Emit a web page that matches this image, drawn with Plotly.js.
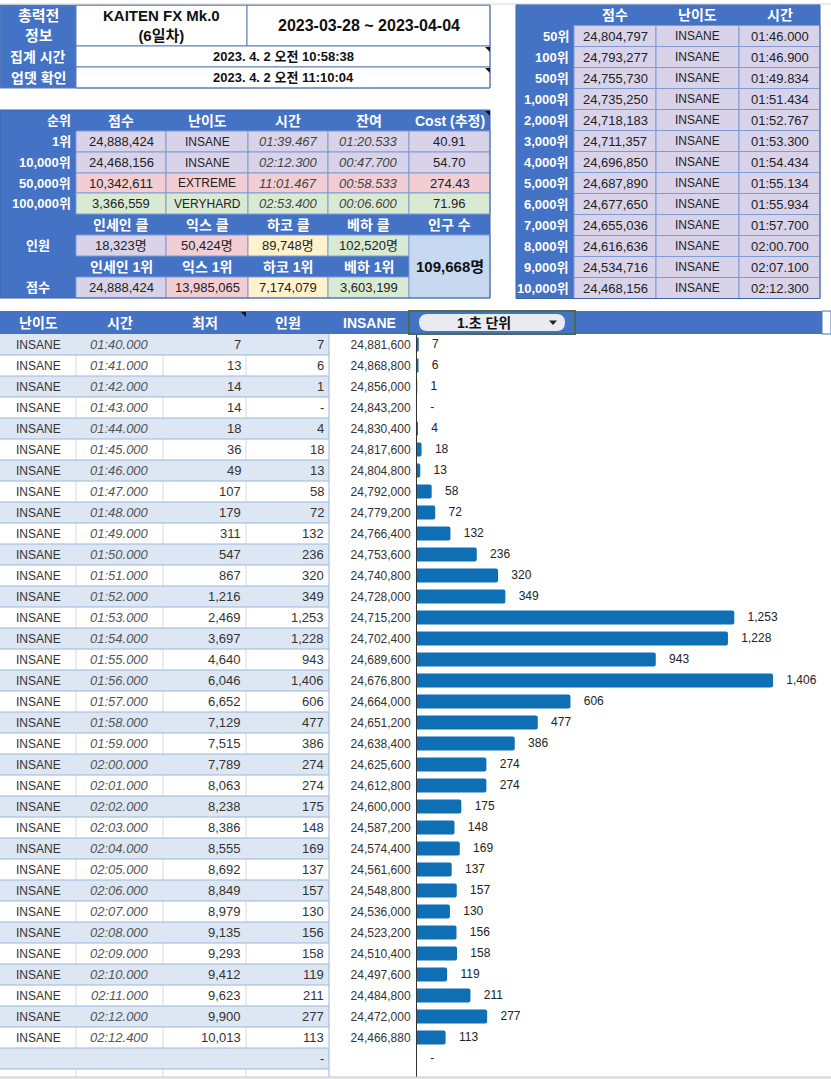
<!DOCTYPE html>
<html><head><meta charset="utf-8">
<script src="https://cdn.plot.ly/plotly-3.0.1.min.js"></script>
<style>html,body{margin:0;padding:0;background:#fff;overflow:hidden}</style>
</head><body><div id="chart" style="width:831px;height:1079px"></div>
<script>
// ---------------- DATA ----------------
const infoLabels = ['총력전<br>정보', '집계 시간', '업뎃 확인'];
const infoTitle = 'KAITEN FX Mk.0<br>(6일차)';
const infoPeriod = '2023-03-28 ~ 2023-04-04';
const infoTimes = ['2023. 4. 2 오전 10:58:38', '2023. 4. 2 오전 11:10:04'];

const rankHeaders = ['순위', '점수', '난이도', '시간', '잔여', 'Cost (추정)'];
const rankLabels = ['1위', '10,000위', '50,000위', '100,000위'];
const rankScores = [24888424, 24468156, 10342611, 3366559];
const rankDiffs = ['INSANE', 'INSANE', 'EXTREME', 'VERYHARD'];
const rankTimes = ['01:39.467', '02:12.300', '11:01.467', '02:53.400'];
const rankRemain = ['01:20.533', '00:47.700', '00:58.533', '00:06.600'];
const rankCost = ['40.91', '54.70', '274.43', '71.96'];

const clearRowLabels = ['인원', '점수'];
const classDiffs = ['INSANE', 'EXTREME', 'HARD', 'VERYHARD'];
const clearHeaders = ['인세인 클', '익스 클', '하코 클', '베하 클'];
const clearCounts = [18323, 50424, 89748, 102520];
const topHeaders = ['인세인 1위', '익스 1위', '하코 1위', '베하 1위'];
const topScores = [24888424, 13985065, 7174079, 3603199];
const popLabel = '인구 수';
const popTotal = 109668;

const cutHeaders = ['', '점수', '난이도', '시간'];
const cutLabels = ['50위', '100위', '500위', '1,000위', '2,000위', '3,000위', '4,000위', '5,000위', '6,000위', '7,000위', '8,000위', '9,000위', '10,000위'];
const cutScores = [24804797, 24793277, 24755730, 24735250, 24718183, 24711357, 24696850, 24687890, 24677650, 24655036, 24616636, 24534716, 24468156];
const cutDiffs = ['INSANE', 'INSANE', 'INSANE', 'INSANE', 'INSANE', 'INSANE', 'INSANE', 'INSANE', 'INSANE', 'INSANE', 'INSANE', 'INSANE', 'INSANE'];
const cutTimes = ['01:46.000', '01:46.900', '01:49.834', '01:51.434', '01:52.767', '01:53.300', '01:54.434', '01:55.134', '01:55.934', '01:57.700', '02:00.700', '02:07.100', '02:12.300'];

const distHeaders = ['난이도', '시간', '최저', '인원'];
const distChartHeader = 'INSANE';
const unitLabel = '1.초 단위';
const distDiffs = ['INSANE', 'INSANE', 'INSANE', 'INSANE', 'INSANE', 'INSANE', 'INSANE', 'INSANE', 'INSANE', 'INSANE',
  'INSANE', 'INSANE', 'INSANE', 'INSANE', 'INSANE', 'INSANE', 'INSANE', 'INSANE', 'INSANE', 'INSANE',
  'INSANE', 'INSANE', 'INSANE', 'INSANE', 'INSANE', 'INSANE', 'INSANE', 'INSANE', 'INSANE', 'INSANE',
  'INSANE', 'INSANE', 'INSANE', 'INSANE', ''];
const distTimes = ['01:40.000', '01:41.000', '01:42.000', '01:43.000', '01:44.000', '01:45.000', '01:46.000', '01:47.000', '01:48.000', '01:49.000',
  '01:50.000', '01:51.000', '01:52.000', '01:53.000', '01:54.000', '01:55.000', '01:56.000', '01:57.000', '01:58.000', '01:59.000',
  '02:00.000', '02:01.000', '02:02.000', '02:03.000', '02:04.000', '02:05.000', '02:06.000', '02:07.000', '02:08.000', '02:09.000',
  '02:10.000', '02:11.000', '02:12.000', '02:12.400', ''];
const distCum = [7, 13, 14, 14, 18, 36, 49, 107, 179, 311,
  547, 867, 1216, 2469, 3697, 4640, 6046, 6652, 7129, 7515,
  7789, 8063, 8238, 8386, 8555, 8692, 8849, 8979, 9135, 9293,
  9412, 9623, 9900, 10013, null];
const distCount = [7, 6, 1, 0, 4, 18, 13, 58, 72, 132,
  236, 320, 349, 1253, 1228, 943, 1406, 606, 477, 386,
  274, 274, 175, 148, 169, 137, 157, 130, 156, 158,
  119, 211, 277, 113, 0];
const distScores = [24881600, 24868800, 24856000, 24843200, 24830400, 24817600, 24804800, 24792000, 24779200, 24766400,
  24753600, 24740800, 24728000, 24715200, 24702400, 24689600, 24676800, 24664000, 24651200, 24638400,
  24625600, 24612800, 24600000, 24587200, 24574400, 24561600, 24548800, 24536000, 24523200, 24510400,
  24497600, 24484800, 24472000, 24466880, null];

// ---------------- STYLE ----------------
const W = 831, H = 1079;
const FONT = 'Liberation Sans, Arial, Noto Sans CJK KR, sans-serif';
const BLUE = '#4472c4';
const diffFill = {INSANE: '#d9d3ea', EXTREME: '#f2cdd3', HARD: '#fff2cc', VERYHARD: '#d9ead3'};
const POPFILL = '#c6d9f0';
const CELLLINE = '#7f9bd3';
const TOPLINE = '#5f7db5';
const ROWBLUE = '#dde7f4';
const ROWLINE = '#9db6d9';
const VLINE = '#d3d9e4';
const BAR = '#0f6fb5';

const fmt = v => (v === null || v === undefined) ? '' : v.toLocaleString('en-US');
const fmtCount = v => v === 0 ? '-' : fmt(v);

const shapes = [], annotations = [];
function rect(x0, x1, y0, y1, fill, line, lw) {
  shapes.push({type: 'rect', xref: 'x2', yref: 'y2', x0, x1, y0, y1,
    fillcolor: fill || 'rgba(0,0,0,0)',
    line: {color: line || 'rgba(0,0,0,0)', width: line ? (lw || 1) : 0}, layer: 'above'});
}
function seg(x0, y0, x1, y1, color, w) {
  shapes.push({type: 'line', xref: 'x2', yref: 'y2', x0, y0, x1, y1, line: {color, width: w || 1}, layer: 'above'});
}
function path(p, fill, line, lw) {
  shapes.push({type: 'path', xref: 'x2', yref: 'y2', path: p, fillcolor: fill,
    line: {color: line || 'rgba(0,0,0,0)', width: line ? (lw || 1) : 0}, layer: 'above'});
}
function cellText(x0, x1, y0, y1, t, o) {
  o = o || {};
  const al = o.align || 'center';
  const pad = o.pad === undefined ? 4 : o.pad;
  const x = al === 'left' ? x0 + pad : al === 'right' ? x1 - pad : (x0 + x1) / 2;
  annotations.push({xref: 'x2', yref: 'y2', x, y: (y0 + y1) / 2 + (o.dy || 0), text: t, showarrow: false,
    xanchor: al, yanchor: 'middle', align: 'center', borderpad: 0,
    font: {family: FONT, size: o.size || 13, color: o.color || '#222'}});
}
const B = t => '<b>' + t + '</b>';
const I = t => '<i>' + t + '</i>';

// ---------- Top info block ----------
{
  const X = [0, 76, 247, 490], Y = [5, 46, 67, 88];
  rect(X[0], X[1], Y[0], Y[3], BLUE);
  rect(X[1], X[2], Y[0], Y[1], '#fff', TOPLINE);
  rect(X[2], X[3], Y[0], Y[1], '#fff', TOPLINE);
  rect(X[1], X[3], Y[1], Y[2], '#fff', TOPLINE);
  rect(X[1], X[3], Y[2], Y[3], '#fff', TOPLINE);
  rect(X[0], X[3], Y[0], Y[3], null, TOPLINE);
  cellText(X[0], X[1], Y[0], Y[1], B(infoLabels[0]), {color: '#fff', size: 15});
  cellText(X[1], X[2], Y[0], Y[1], B(infoTitle), {size: 15, color: '#111'});
  cellText(X[2], X[3], Y[0], Y[1], B(infoPeriod), {size: 16, color: '#111'});
  for (let r = 0; r < 2; r++) {
    cellText(X[0], X[1], Y[r + 1], Y[r + 2], B(infoLabels[r + 1]), {color: '#fff', size: 14});
    cellText(X[1], X[3], Y[r + 1], Y[r + 2], B(infoTimes[r]), {size: 13, color: '#111'});
  }
}

// ---------- Rank summary block ----------
{
  const X = [0, 76, 166, 248, 328, 409, 490];
  const Y = [110, 131, 152, 173, 193, 214, 235, 256, 277, 298];
  rect(0, 490, Y[0], Y[9], BLUE);
  rankHeaders.forEach((h, c) => cellText(X[c], X[c + 1], Y[0], Y[1], B(h), {color: '#fff', size: c === 0 ? 13 : 14, align: c === 0 ? 'right' : 'center'}));
  for (let r = 0; r < 4; r++) {
    const y0 = Y[r + 1], y1 = Y[r + 2];
    const fill = diffFill[rankDiffs[r]];
    for (let c = 1; c < 6; c++) rect(X[c], X[c + 1], y0, y1, fill, CELLLINE);
    cellText(X[0], X[1], y0, y1, B(rankLabels[r]), {color: '#fff', size: 13, align: 'right'});
    cellText(X[1], X[2], y0, y1, fmt(rankScores[r]));
    cellText(X[2], X[3], y0, y1, rankDiffs[r], {size: 12});
    cellText(X[3], X[4], y0, y1, I(rankTimes[r]), {color: '#444'});
    cellText(X[4], X[5], y0, y1, I(rankRemain[r]), {color: '#444'});
    cellText(X[5], X[6], y0, y1, rankCost[r]);
  }
  clearHeaders.forEach((h, c) => cellText(X[c + 1], X[c + 2], Y[5], Y[6], B(h), {color: '#fff', size: 14}));
  cellText(X[5], X[6], Y[5], Y[6], B(popLabel), {color: '#fff', size: 14});
  cellText(X[0], X[1], Y[6], Y[7], B(clearRowLabels[0]), {color: '#fff', size: 13});
  clearCounts.forEach((v, c) => {
    rect(X[c + 1], X[c + 2], Y[6], Y[7], diffFill[classDiffs[c]], CELLLINE);
    cellText(X[c + 1], X[c + 2], Y[6], Y[7], fmt(v) + '명');
  });
  topHeaders.forEach((h, c) => cellText(X[c + 1], X[c + 2], Y[7], Y[8], B(h), {color: '#fff', size: 14}));
  cellText(X[0], X[1], Y[8], Y[9], B(clearRowLabels[1]), {color: '#fff', size: 13});
  topScores.forEach((v, c) => {
    rect(X[c + 1], X[c + 2], Y[8], Y[9], diffFill[classDiffs[c]], CELLLINE);
    cellText(X[c + 1], X[c + 2], Y[8], Y[9], fmt(v));
  });
  rect(X[5], X[6], Y[6], Y[9], POPFILL, CELLLINE);
  cellText(X[5], X[6], Y[6], Y[9], B(fmt(popTotal) + '명'), {size: 15, color: '#111'});
  rect(0, 490, Y[0], Y[9], null, '#3f64a8');
}

// ---------- Cut-off block (right) ----------
{
  const X = [516, 574, 656, 739, 820];
  const Y0 = 4.5, RH = 21;
  rect(X[0], X[4], Y0, Y0 + RH * 14, BLUE);
  cutHeaders.forEach((h, c) => cellText(X[c], X[c + 1], Y0, Y0 + RH, B(h), {color: '#fff', size: 14}));
  cutLabels.forEach((lab, r) => {
    const y0 = Y0 + RH * (r + 1), y1 = y0 + RH;
    const fill = diffFill[cutDiffs[r]];
    for (let c = 1; c < 4; c++) rect(X[c], X[c + 1], y0, y1, fill, CELLLINE);
    cellText(X[0], X[1], y0, y1, B(lab), {color: '#fff', size: 13, align: 'right', pad: 4});
    cellText(X[1], X[2], y0, y1, fmt(cutScores[r]));
    cellText(X[2], X[3], y0, y1, cutDiffs[r], {size: 12});
    cellText(X[3], X[4], y0, y1, cutTimes[r]);
  });
  rect(X[0], X[4], Y0, Y0 + RH * 14, null, '#3f64a8');
}

// ---------- Distribution table (bottom-left) ----------
const DTOP = 311, DHEAD = 334, DRH = 21, DBOT = 1077;
{
  const X = [0, 76, 163, 246, 329];
  rect(0, 822, DTOP, DHEAD, BLUE);
  distHeaders.forEach((h, c) => cellText(X[c], X[c + 1], DTOP, DHEAD, B(h), {color: '#fff', size: 14}));
  cellText(329, 410, DTOP, DHEAD, B(distChartHeader), {color: '#fff', size: 14});
  const n = distTimes.length;
  for (let r = 0; r <= n; r++) {
    const y0 = DHEAD + DRH * r, y1 = Math.min(y0 + DRH, DBOT);
    const blue = r % 2 === 0;
    rect(0, 329, y0, y1, blue ? ROWBLUE : '#fff');
    if (!blue) for (let c = 1; c < 4; c++) seg(X[c], y0, X[c], y1, VLINE);
    if (r < n) {
      cellText(X[0], X[1], y0, y1, distDiffs[r], {size: 12, color: '#333'});
      cellText(X[1], X[2], y0, y1, I(distTimes[r]), {color: '#555'});
      cellText(X[2], X[3], y0, y1, fmt(distCum[r]), {align: 'right', color: '#333'});
      cellText(X[3], X[4], y0, y1, fmtCount(distCount[r]), {align: 'right', color: '#333'});
    }
  }
  for (let r = 1; r <= n; r++) seg(0, DHEAD + DRH * r, 329, DHEAD + DRH * r, ROWLINE);
  seg(329, DHEAD, 329, DBOT, ROWLINE);
  rect(409, 575, DTOP, DHEAD, BLUE, '#4d6b4f', 2);
  path('M427.5,314 L556.5,314 Q565,314 565,322.5 Q565,331 556.5,331 L427.5,331 Q419,331 419,322.5 Q419,314 427.5,314 Z', '#e8ebf2');
  cellText(419, 548, DTOP, DHEAD, B(unitLabel), {size: 14, color: '#111'});
  path('M549,320.5 L557,320.5 L553,325 Z', '#222');
  rect(822, 831, DTOP, DHEAD, '#fff', '#4472c4');
}

// comment markers & sheet edges
path('M485,47 L490,47 L490,52 Z', '#111');
path('M485,68 L490,68 L490,73 Z', '#111');
path('M485,111 L490,111 L490,116 Z', '#111');
path('M241,312 L246,312 L246,317 Z', '#111');
seg(0, 4, 831, 4, '#d6d6d6');
rect(0, 831, DBOT, H, '#e9e9e9');
seg(0, DBOT, 831, DBOT, '#c9c9c9');

// ---------------- CHART ----------------
const idx = distCount.map((_, i) => i);
const NB = '\u00a0\u00a0\u00a0\u00a0';
const traces = [
  {type: 'bar', orientation: 'h', x: distCount, y: idx, width: 0.667,
    marker: {color: BAR, cornerradius: 2}, hoverinfo: 'skip', xaxis: 'x', yaxis: 'y'},
  {type: 'scatter', mode: 'text', x: distCount, y: idx, text: distCount.map(v => NB + fmtCount(v)),
    textposition: 'middle right', cliponaxis: false,
    textfont: {family: FONT, size: 12, color: '#222'}, hoverinfo: 'skip', xaxis: 'x', yaxis: 'y'},
  {type: 'scatter', mode: 'markers', x: [], y: [], xaxis: 'x2', yaxis: 'y2', hoverinfo: 'skip'}
];

const layout = {
  width: W, height: H, margin: {l: 0, r: 0, t: 0, b: 0, pad: 0},
  paper_bgcolor: '#fff', plot_bgcolor: 'rgba(0,0,0,0)', showlegend: false,
  xaxis: {domain: [417 / W, 1], range: [0, 1635], visible: false, fixedrange: true, anchor: 'y'},
  yaxis: {domain: [1 - DBOT / H, 1 - DHEAD / H], range: [(DBOT - DHEAD) / DRH - 0.5, -0.5], anchor: 'x',
    tickmode: 'array', tickvals: idx, ticktext: distScores.map(fmt),
    showline: true, linecolor: '#333', linewidth: 1, ticks: '', showgrid: false, zeroline: false,
    tickfont: {family: FONT, size: 12, color: '#333'}, ticklabelstandoff: 3, fixedrange: true},
  xaxis2: {domain: [0, 1], range: [0, W], visible: false, anchor: 'y2', fixedrange: true},
  yaxis2: {domain: [0, 1], range: [H, 0], visible: false, anchor: 'x2', fixedrange: true},
  shapes, annotations
};

Plotly.newPlot('chart', traces, layout, {displayModeBar: false, staticPlot: true});
</script></body></html>
